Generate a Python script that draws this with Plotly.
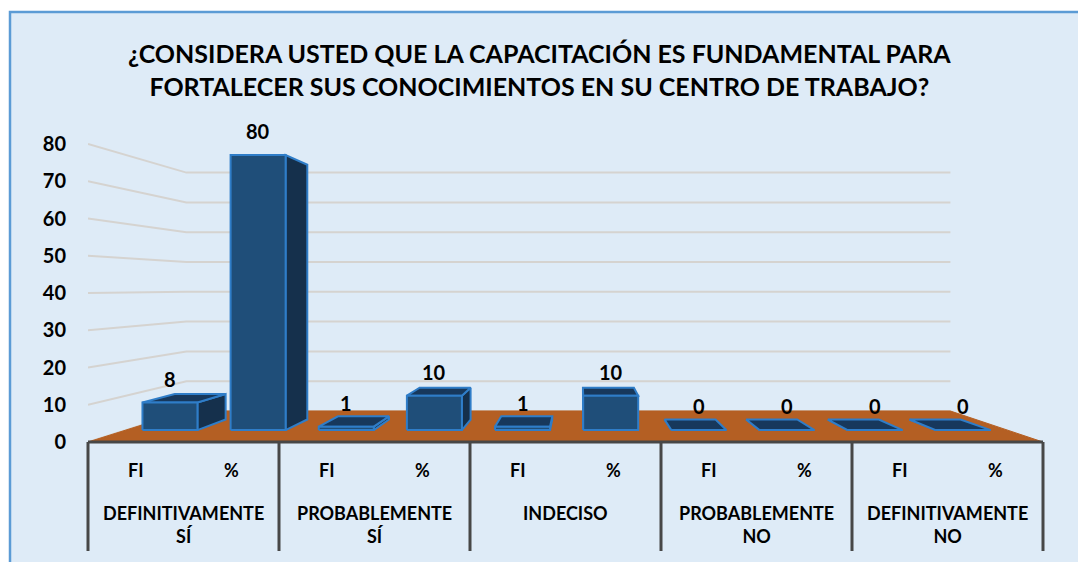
import plotly.graph_objects as go

# ---------------- data ----------------
groups = ["DEFINITIVAMENTE<br>SÍ", "PROBABLEMENTE<br>SÍ", "INDECISO",
          "PROBABLEMENTE<br>NO", "DEFINITIVAMENTE<br>NO"]
series = ["FI", "%"]
fi_values = [8, 1, 1, 0, 0]
pct_values = [80, 10, 10, 0, 0]
y_ticks = [0, 10, 20, 30, 40, 50, 60, 70, 80]
title_text = ("¿CONSIDERA USTED QUE LA CAPACITACIÓN ES FUNDAMENTAL PARA<br>"
              "FORTALECER SUS CONOCIMIENTOS EN SU CENTRO DE TRABAJO?")

# ---------------- layout / perspective settings ----------------
W, H = 1078, 562
PL, PR = 88, 1043          # plot left / right in px
PY0 = 442                  # px of value 0 (front plane)
PXU = 3.725                # px per value unit (front plane)
PT, PB = 100, 556          # plot top / bottom px
n_cat = len(groups) * len(series)
x_unit = (PR - PL) / n_cat
Y_MIN = (PY0 - PB) / PXU
Y_MAX = (PY0 - PT) / PXU
VPX, VPY = 580, 287        # vanishing point px
vx = (VPX - PL) / x_unit
vy = (PY0 - VPY) / PXU
K_WALL, K_FRONT, K_BACK = 0.8, 0.923, 0.855
HALF = 0.312

FONT = "Lato"
BG = "#DEEBF7"
FLOOR = "#B45F23"
FRONT_C = "#1F4E79"
SIDE_C = "#15304C"
TOP_C = "#17385C"
EDGE_C = "#2F7DC8"
GRID_C = "#D5D3D0"
AXIS_C = "#474747"


def proj(x, y, k):
    return vx + (x - vx) * k, vy + (y - vy) * k


def poly(points, fill, line_color, width=2):
    xs = [p[0] for p in points] + [points[0][0]]
    ys = [p[1] for p in points] + [points[0][1]]
    return go.Scatter(x=xs, y=ys, mode="lines", fill="toself", fillcolor=fill,
                      line=dict(color=line_color, width=width),
                      hoverinfo="skip", showlegend=False)


values = []
labels_sub = []
for g, fi, pc in zip(groups, fi_values, pct_values):
    values += [fi, pc]
    labels_sub += series

fig = go.Figure()

# wall gridlines
gx, gy = [], []
for t in y_ticks:
    for p in (proj(0, t, 1), proj(0, t, K_WALL), proj(n_cat, t, K_WALL)):
        gx.append(p[0]); gy.append(p[1])
    gx.append(None); gy.append(None)
fig.add_trace(go.Scatter(x=gx, y=gy, mode="lines", line=dict(color=GRID_C, width=2),
                         hoverinfo="skip", showlegend=False))

# floor
fig.add_trace(poly([proj(0, 0, 1), proj(n_cat, 0, 1), proj(n_cat, 0, K_WALL), proj(0, 0, K_WALL)],
                   FLOOR, FLOOR, 1))

# bars
for i, v in enumerate(values):
    cx = i + 0.5
    xl, xr = cx - HALF, cx + HALF
    if xr < vx:
        fig.add_trace(poly([proj(xr, 0, K_FRONT), proj(xr, v, K_FRONT),
                            proj(xr, v, K_BACK), proj(xr, 0, K_BACK)], SIDE_C, EDGE_C))
    elif xl > vx:
        fig.add_trace(poly([proj(xl, 0, K_FRONT), proj(xl, v, K_FRONT),
                            proj(xl, v, K_BACK), proj(xl, 0, K_BACK)], SIDE_C, EDGE_C))
    if v < vy:
        fig.add_trace(poly([proj(xl, v, K_FRONT), proj(xr, v, K_FRONT),
                            proj(xr, v, K_BACK), proj(xl, v, K_BACK)], TOP_C, EDGE_C))
    fig.add_trace(poly([proj(xl, 0, K_FRONT), proj(xr, 0, K_FRONT),
                        proj(xr, v, K_FRONT), proj(xl, v, K_FRONT)], FRONT_C, EDGE_C))

annotations = []
# title
annotations.append(dict(x=(W / 2 - PL) / (PR - PL), xref="paper",
                        y=(PB - 69.5) / (PB - PT), yref="paper",
                        text=title_text, showarrow=False, xanchor="center", yanchor="middle",
                        font=dict(family=FONT, size=25, color="black", weight="bold")))
# data labels
for i, v in enumerate(values):
    px_, py_ = proj(i + 0.5, v, K_FRONT)
    annotations.append(dict(x=px_, y=py_, xref="x", yref="y", text=str(v), showarrow=False,
                            yshift=24, yanchor="middle",
                            font=dict(family=FONT, size=20, color="black", weight="bold")))
# sub category labels
for i, s in enumerate(labels_sub):
    annotations.append(dict(x=i + 0.5, y=(PY0 - 470) / PXU, xref="x", yref="y", text=s,
                            showarrow=False, yanchor="middle",
                            font=dict(family=FONT, size=18, color="black", weight="bold")))
# group labels
for gi, g in enumerate(groups):
    annotations.append(dict(x=gi * 2 + 1, y=(PY0 - 500) / PXU, xref="x", yref="y", text=g,
                            showarrow=False, yanchor="top",
                            font=dict(family=FONT, size=18, color="black", weight="bold")))


def xpaper(x):
    return x / n_cat


def ypaper(v):
    return (v - Y_MIN) / (Y_MAX - Y_MIN)


shapes = []
# chart area background with border
shapes.append(dict(type="rect", xref="paper", yref="paper", layer="below",
                   x0=(10 - PL) / (PR - PL), x1=(W + 20 - PL) / (PR - PL),
                   y0=(PB - (H + 20)) / (PB - PT), y1=(PB - 12) / (PB - PT),
                   fillcolor=BG, line=dict(color="#5B9BD5", width=2.5)))
# axis line
shapes.append(dict(type="line", xref="paper", yref="paper", x0=xpaper(0), x1=xpaper(n_cat),
                   y0=ypaper(0), y1=ypaper(0), line=dict(color=AXIS_C, width=3)))
# group separators
sep_bottom = (PY0 - 551) / PXU
for gi in range(len(groups) + 1):
    xx = gi * len(series)
    shapes.append(dict(type="line", xref="paper", yref="paper", x0=xpaper(xx), x1=xpaper(xx),
                       y0=ypaper(0), y1=ypaper(sep_bottom), line=dict(color=AXIS_C, width=3)))

fig.update_layout(
    width=W, height=H,
    margin=dict(l=PL, r=W - PR, t=PT, b=H - PB),
    paper_bgcolor="white", plot_bgcolor="rgba(0,0,0,0)",
    xaxis=dict(range=[0, n_cat], showgrid=False, zeroline=False, showticklabels=False,
               showline=False, ticks="", fixedrange=True),
    yaxis=dict(range=[Y_MIN, Y_MAX], showgrid=False, zeroline=False, showline=False,
               tickvals=y_ticks, ticks="outside", ticklen=17, tickcolor="rgba(0,0,0,0)",
               tickfont=dict(family=FONT, size=20, color="black", weight="bold"),
               fixedrange=True),
    annotations=annotations,
    shapes=shapes,
    showlegend=False,
)

fig.write_html("out.html", config={"displayModeBar": False},
               post_script="document.body.style.margin='0';document.body.style.overflow='hidden';")
